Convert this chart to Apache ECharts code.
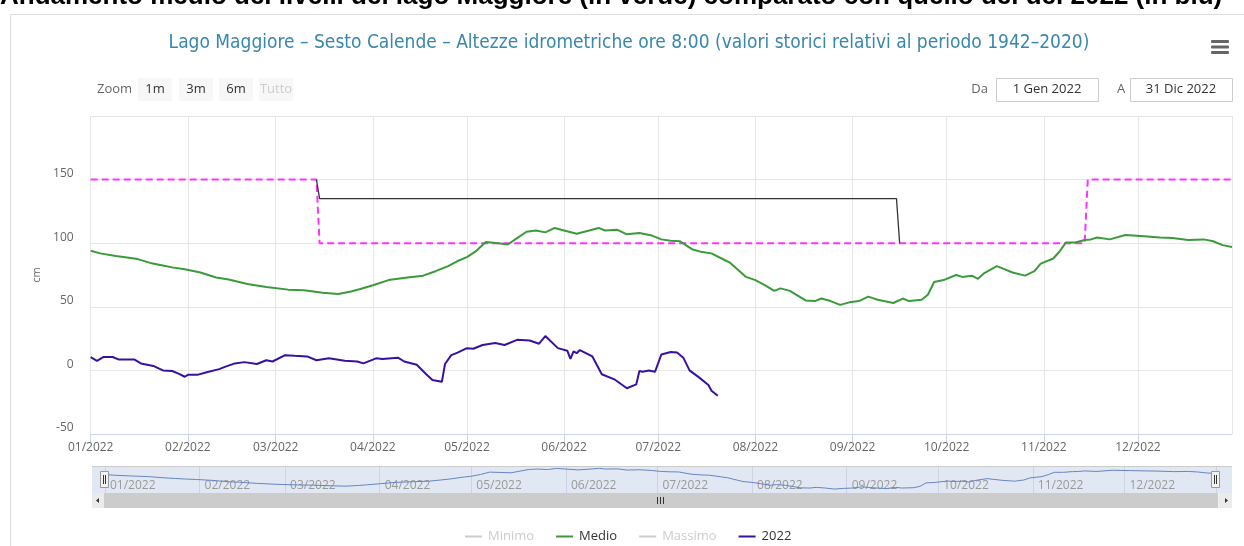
<!DOCTYPE html>
<html><head><meta charset="utf-8">
<script src="https://cdn.jsdelivr.net/npm/echarts@6/dist/echarts.min.js"></script>
<style>html,body{margin:0;padding:0;background:#fff}#c{width:1244px;height:546px}</style>
</head><body><div id="c"></div>
<script>
// ---- data (day of year 2022, 0 = 1 Jan) ----
const medioDays = [0,3,8,11,15,19,23,26,30,35,40,44,50,56,63,68,74,79,83,86,90,95,101,106,110,114,117,120,123,126,130,133,136,139,142,145,148,151,155,159,162,164,168,171,175,179,182,185,188,192,195,198,202,204,209,212,215,218,220,223,228,231,233,236,239,242,245,248,251,256,259,261,265,267,269,272,276,278,281,283,285,289,291,294,298,301,303,307,309,311,314,317,319,321,325,330,336,341,345,350,355,358,361,364];
const medioVals = [94,92,90,89,87.5,84.5,82.5,81,79.5,77,73,71.5,68,65.5,63.5,63,61,60,62,64,67,71,73,74.5,78,82,86,89,94,101,100,99,104,109,110,108.5,112,110,107.5,110,112,110,110.5,107,108,106,103,102,101.5,95,93,92,87,84.5,73.5,71,67,62.5,64.5,62.5,55,54.5,56.5,54.5,51.5,53.5,54.5,58,55.5,53,56.5,54.5,55.5,59.5,69.5,71,75,73.5,74.5,72,76.5,82,80,77,74.5,78,84,88,93.5,100.5,100.5,102.5,103,104.5,103,106.5,105.5,104.5,104,102.5,103,101.5,98.5,97];
const y2022Days = [0,2,4,7,9,14,16,20,23,26,28,30,31,34,37,41,43,46,49,53,56,58,62,65,69,72,76,81,85,87,91,93,98,100,104,107,109,112,113,115,117,120,122,125,129,132,136,140,143,145,149,152,153,154,155,156,160,163,167,171,174,175,176,178,180,182,185,187,189,191,194,197,198,200];
const y2022Vals = [10.5,7.5,10.5,10.5,8.5,8.5,5.5,3.5,0,-0.5,-2.5,-5,-3.5,-3.5,-1.5,1,3,5.5,6.5,5,8,7,12,11.5,11,8,9.5,7.5,7,5.5,9.5,9,10,7,4.5,-3,-7.5,-9,5,12,14,17.5,17,20,21.5,20,24,23.5,21,27,17.5,15.5,9,15,13.5,16,11,-3,-7,-14,-11,-0.5,-1,0,-1,12.5,14.5,14,10,0,-5.5,-11.5,-16,-20];
const limitDays = [0,72,73,317,318,364];
const limitVals = [150,150,100,100,150,150];
const blackDays = [72,73,257,258];
const blackVals = [150,135,135,100];
const legendNames = ['Minimo','Medio','Massimo','2022'];
const yMin = -50, yMax = 200, yStep = 50;
const titleText = 'Lago Maggiore – Sesto Calende – Altezze idrometriche ore 8:00 (valori storici relativi al periodo 1942–2020)';
const topText = 'Andamento medio dei livelli del lago Maggiore (in verde) comparato con quello del del 2022 (in blu)';

const ts = d => new Date(2022, 0, 1 + d).getTime();
const pairs = (days, vals) => days.map((d, i) => [ts(d), vals[i]]);
const DAY = 86400000;
const FONT = "'Open Sans', sans-serif";

const chart = echarts.init(document.getElementById('c'), null, {renderer: 'canvas'});

function btn(x, label, disabled) {
  return [
    {type: 'rect', shape: {x: x, y: 78, width: 34, height: 23, r: 0}, style: {fill: '#f7f7f7'}},
    {type: 'text', x: x + 17, y: 89.5, style: {text: label, fill: disabled ? '#cccccc' : '#333333', font: '13px ' + FONT, align: 'center', verticalAlign: 'middle'}}
  ];
}
function box(x, label) {
  return [
    {type: 'rect', shape: {x: x + 0.5, y: 78.5, width: 102, height: 23}, style: {fill: '#fff', stroke: '#cccccc', lineWidth: 1}},
    {type: 'text', x: x + 51, y: 89.5, style: {text: label, fill: '#333333', font: '13px ' + FONT, align: 'center', verticalAlign: 'middle'}}
  ];
}
function handle(x) {
  return [
    {type: 'rect', shape: {x: x - 4.5, y: 471.5, width: 8, height: 16}, style: {fill: '#f2f2f2', stroke: '#999999', lineWidth: 1}, z: 10},
    {type: 'line', shape: {x1: x - 1.5, y1: 475, x2: x - 1.5, y2: 484}, style: {stroke: '#333', lineWidth: 1}, z: 11},
    {type: 'line', shape: {x1: x + 0.5, y1: 475, x2: x + 0.5, y2: 484}, style: {stroke: '#333', lineWidth: 1}, z: 11}
  ];
}

const graphics = [].concat(
  [
    {type: 'line', shape: {x1: 10.5, y1: 14, x2: 10.5, y2: 546}, style: {stroke: '#dddddd', lineWidth: 1}},
    {type: 'line', shape: {x1: 10, y1: 14.5, x2: 1244, y2: 14.5}, style: {stroke: '#dddddd', lineWidth: 1}},
    {type: 'text', x: 0, y: 10, style: {text: topText, fill: '#000', font: "bold 26px 'Liberation Sans', sans-serif", align: 'left', verticalAlign: 'bottom'}},
    {type: 'text', x: 629, y: 43, style: {text: titleText, fill: '#3a87ad', font: "19px 'Liberation Sans Narrow', 'DejaVu Sans Condensed', sans-serif", align: 'center', verticalAlign: 'middle'}},
    {type: 'rect', shape: {x: 1211, y: 40, width: 18, height: 3, r: 1}, style: {fill: '#666666'}},
    {type: 'rect', shape: {x: 1211, y: 45.5, width: 18, height: 3, r: 1}, style: {fill: '#666666'}},
    {type: 'rect', shape: {x: 1211, y: 51, width: 18, height: 3, r: 1}, style: {fill: '#666666'}},
    {type: 'text', x: 97, y: 89.5, style: {text: 'Zoom', fill: '#666666', font: '13px ' + FONT, align: 'left', verticalAlign: 'middle'}},
    {type: 'text', x: 988, y: 89.5, style: {text: 'Da', fill: '#666666', font: '13px ' + FONT, align: 'right', verticalAlign: 'middle'}},
    {type: 'text', x: 1121, y: 89.5, style: {text: 'A', fill: '#666666', font: '13px ' + FONT, align: 'center', verticalAlign: 'middle'}},
    // navigator background
    {type: 'rect', shape: {x: 92, y: 467, width: 1140, height: 26}, style: {fill: '#e2e8f3'}, z: -10},
    {type: 'line', shape: {x1: 92, y1: 466.5, x2: 1232, y2: 466.5}, style: {stroke: '#cccccc', lineWidth: 1}, z: 5},
    // scrollbar
    {type: 'rect', shape: {x: 92, y: 493, width: 1140, height: 15}, style: {fill: '#f2f2f2'}},
    {type: 'rect', shape: {x: 104, y: 493, width: 1114, height: 15}, style: {fill: '#cccccc'}},
    {type: 'rect', shape: {x: 92, y: 493, width: 12, height: 15}, style: {fill: '#ebebeb'}},
    {type: 'rect', shape: {x: 1219, y: 493, width: 13, height: 15}, style: {fill: '#ebebeb'}},
    {type: 'polygon', shape: {points: [[96, 500.5], [99, 498], [99, 503]]}, style: {fill: '#333'}},
    {type: 'polygon', shape: {points: [[1228, 500.5], [1225, 498], [1225, 503]]}, style: {fill: '#333'}},
    {type: 'line', shape: {x1: 657.5, y1: 497, x2: 657.5, y2: 504}, style: {stroke: '#333', lineWidth: 1}},
    {type: 'line', shape: {x1: 660.5, y1: 497, x2: 660.5, y2: 504}, style: {stroke: '#333', lineWidth: 1}},
    {type: 'line', shape: {x1: 663.5, y1: 497, x2: 663.5, y2: 504}, style: {stroke: '#333', lineWidth: 1}}
  ],
  btn(138, '1m'), btn(179, '3m'), btn(219, '6m'), btn(259, 'Tutto', true),
  box(996, '1 Gen 2022'), box(1130, '31 Dic 2022'),
  handle(105), handle(1216)
);

const timeAxisBase = {
  type: 'time', min: ts(0), max: ts(364), splitNumber: 12,
  minInterval: 28 * DAY, maxInterval: 31 * DAY
};

chart.setOption({
  animation: false,
  textStyle: {fontFamily: FONT},
  grid: [
    {left: 90.7, right: 12, top: 116, bottom: 112},
    {left: 105, right: 28, top: 467, height: 26}
  ],
  xAxis: [
    Object.assign({}, timeAxisBase, {
      gridIndex: 0,
      axisLine: {show: true, onZero: false, lineStyle: {color: '#ccd6eb', width: 1}},
      axisTick: {show: true, length: 8, lineStyle: {color: '#ccd6eb'}},
      splitLine: {show: true, lineStyle: {color: '#e6e6e6', width: 1}},
      axisLabel: {formatter: '{MM}/{yyyy}', color: '#666666', fontSize: 12, fontFamily: FONT, margin: 8, hideOverlap: false}
    }),
    Object.assign({}, timeAxisBase, {
      gridIndex: 1,
      axisLine: {show: false, onZero: false}, axisTick: {show: false},
      splitLine: {show: true, lineStyle: {color: '#ccd3e2', width: 1}},
      axisLabel: {inside: true, formatter: '{MM}/{yyyy}', color: '#999999', fontSize: 12, fontFamily: FONT, align: 'left', padding: [0, 0, 0, 5], margin: 1, hideOverlap: false}
    })
  ],
  yAxis: [
    {
      type: 'value', gridIndex: 0, min: yMin, max: yMax, interval: yStep,
      name: 'cm', nameLocation: 'middle', nameGap: 48, nameRotate: 90,
      nameTextStyle: {color: '#666666', fontSize: 11, fontFamily: FONT},
      axisLine: {show: false}, axisTick: {show: false},
      splitLine: {show: true, lineStyle: {color: '#e6e6e6', width: 1}},
      axisLabel: {color: '#666666', fontSize: 12, fontFamily: FONT, margin: 17, verticalAlign: 'bottom', showMaxLabel: false}
    },
    {type: 'value', gridIndex: 1, min: 40, max: 116, show: false, splitLine: {show: false}}
  ],
  legend: {
    data: legendNames, left: 460, top: 525, itemWidth: 17, itemHeight: 2, itemGap: 22, icon: 'rect',
    selected: {'Minimo': false, 'Massimo': false},
    inactiveColor: '#cccccc',
    textStyle: {color: '#333333', fontSize: 13, fontFamily: FONT, padding: [0, 0, 0, 1]}
  },
  series: [
    {name: 'Minimo', type: 'line', data: [], color: '#cccccc', showSymbol: false},
    {name: 'Medio', type: 'line', data: pairs(medioDays, medioVals), color: '#3a9b3a', showSymbol: false, symbol: 'none', lineStyle: {width: 2}, z: 4},
    {name: 'Massimo', type: 'line', data: [], color: '#cccccc', showSymbol: false},
    {name: '2022', type: 'line', data: pairs(y2022Days, y2022Vals), color: '#3a10a0', showSymbol: false, symbol: 'none', lineStyle: {width: 2}, z: 5},
    {name: 'limite', type: 'line', data: pairs(limitDays, limitVals), color: '#ff33ff', symbol: 'none', lineStyle: {width: 2, type: [7, 4]}, z: 3},
    {name: 'regolazione', type: 'line', data: pairs(blackDays, blackVals), color: '#333333', symbol: 'none', lineStyle: {width: 1.3}, z: 3},
    {name: 'nav', type: 'line', xAxisIndex: 1, yAxisIndex: 1, data: pairs(medioDays, medioVals), color: '#6685c2', symbol: 'none', lineStyle: {width: 1}, silent: true}
  ],
  graphic: graphics
});
</script></body></html>
